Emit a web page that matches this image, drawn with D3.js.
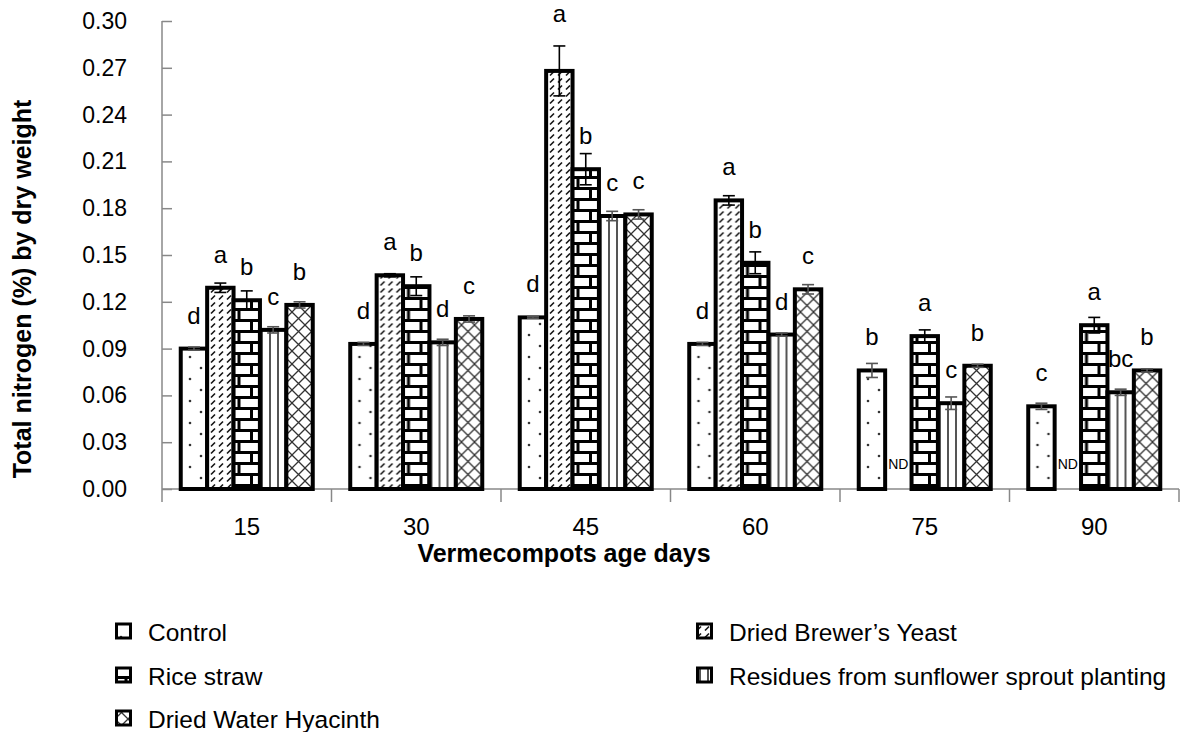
<!DOCTYPE html>
<html>
<head>
<meta charset="utf-8">
<script src="https://cdn.jsdelivr.net/npm/d3@7"></script>
<style>
  body { margin: 0; background: #fff; }
  svg text { font-family: "Liberation Sans", Arial, sans-serif; fill: #000; }
</style>
</head>
<body>
<div id="chart"></div>
<script>
// data
var days = ["15", "30", "45", "60", "75", "90"];
var series = ["Control", "Dried Brewer\u2019s Yeast", "Rice straw",
              "Residues from sunflower sprout planting", "Dried Water Hyacinth"];

var control   = [0.090, 0.093, 0.110, 0.093, 0.076, 0.053];
var yeast     = [0.129, 0.137, 0.268, 0.185, 0, 0];
var riceStraw = [0.121, 0.130, 0.205, 0.145, 0.098, 0.105];
var sunflower = [0.102, 0.094, 0.175, 0.099, 0.055, 0.062];
var hyacinth  = [0.118, 0.109, 0.176, 0.128, 0.079, 0.076];

var controlErr   = [0.001, 0.001, 0.0005, 0.001, 0.0045, 0.002];
var yeastErr     = [0.003, 0.001, 0.016, 0.003, 0, 0];
var riceErr      = [0.006, 0.006, 0.010, 0.007, 0.004, 0.005];
var sunflowerErr = [0.002, 0.002, 0.003, 0.001, 0.004, 0.002];
var hyacinthErr  = [0.002, 0.002, 0.003, 0.003, 0.001, 0.001];

// significance letters, "ND" = not detected
var controlLbl   = ["d", "d", "d", "d", "b", "c"];
var yeastLbl     = ["a", "a", "a", "a", "ND", "ND"];
var riceLbl      = ["b", "b", "b", "b", "a", "a"];
var sunflowerLbl = ["c", "d", "c", "d", "c", "bc"];
var hyacinthLbl  = ["b", "c", "c", "c", "b", "b"];

var yTicks = [0, 0.03, 0.06, 0.09, 0.12, 0.15, 0.18, 0.21, 0.24, 0.27, 0.30];

(function() {

var values = [control, yeast, riceStraw, sunflower, hyacinth];
var errors = [controlErr, yeastErr, riceErr, sunflowerErr, hyacinthErr];
var labels = [controlLbl, yeastLbl, riceLbl, sunflowerLbl, hyacinthLbl];
var patternIds = ["pDots", "pDash", "pBrick", "pVert", "pCross"];
var errColor = ["#555", "#000", "#000", "#555", "#555"];

var width = 1181, height = 732;
var left = 162, right = 1179, plotTop = 21, bottom = 489;

var svg = d3.select("#chart").append("svg")
    .attr("width", width)
    .attr("height", height);

// fill patterns
var defs = svg.append("defs");

var pd = defs.append("pattern").attr("id", "pDots")
    .attr("patternUnits", "userSpaceOnUse").attr("width", 22).attr("height", 22);
pd.append("rect").attr("width", 22).attr("height", 22).attr("fill", "#fff");
pd.append("circle").attr("cx", 6).attr("cy", 5).attr("r", 1.3).attr("fill", "#333");
pd.append("circle").attr("cx", 17).attr("cy", 16).attr("r", 1.3).attr("fill", "#333");

var pa = defs.append("pattern").attr("id", "pDash")
    .attr("patternUnits", "userSpaceOnUse").attr("width", 8).attr("height", 7);
pa.append("rect").attr("width", 8).attr("height", 7).attr("fill", "#fff");
pa.append("line").attr("x1", 1).attr("y1", 5.5).attr("x2", 5).attr("y2", 1.5)
    .attr("stroke", "#111").attr("stroke-width", 1.6);

var pb = defs.append("pattern").attr("id", "pBrick")
    .attr("patternUnits", "userSpaceOnUse").attr("width", 22).attr("height", 22);
pb.append("rect").attr("width", 22).attr("height", 22).attr("fill", "#fff");
pb.append("line").attr("x1", 0).attr("y1", 1.5).attr("x2", 22).attr("y2", 1.5)
    .attr("stroke", "#000").attr("stroke-width", 3);
pb.append("line").attr("x1", 0).attr("y1", 12.5).attr("x2", 22).attr("y2", 12.5)
    .attr("stroke", "#000").attr("stroke-width", 3);
pb.append("line").attr("x1", 11).attr("y1", 0).attr("x2", 11).attr("y2", 11)
    .attr("stroke", "#000").attr("stroke-width", 3);
pb.append("line").attr("x1", 1.5).attr("y1", 11).attr("x2", 1.5).attr("y2", 22)
    .attr("stroke", "#000").attr("stroke-width", 3);

var pv = defs.append("pattern").attr("id", "pVert")
    .attr("patternUnits", "userSpaceOnUse").attr("width", 8).attr("height", 8);
pv.append("rect").attr("width", 8).attr("height", 8).attr("fill", "#fff");
pv.append("line").attr("x1", 4).attr("y1", 0).attr("x2", 4).attr("y2", 8)
    .attr("stroke", "#555").attr("stroke-width", 2);

var pc = defs.append("pattern").attr("id", "pCross")
    .attr("patternUnits", "userSpaceOnUse").attr("width", 13).attr("height", 13);
pc.append("rect").attr("width", 13).attr("height", 13).attr("fill", "#fff");
pc.append("path").attr("d", "M0,0L13,13M13,0L0,13")
    .attr("stroke", "#333").attr("stroke-width", 1.3).attr("fill", "none");

// scales
var x0 = d3.scaleBand().domain(days).range([left, right]).padding(0);
var x1 = d3.scaleBand().domain(d3.range(series.length))
    .range([0, x0.bandwidth()]).paddingInner(0).paddingOuter(0.71);
var y = d3.scaleLinear().domain([0, 0.30]).range([bottom, plotTop]);

// y axis, ticks pointing into the plot
var yAxis = svg.append("g")
    .attr("transform", "translate(" + left + ",0)")
    .call(d3.axisRight(y).tickValues(yTicks).tickSize(10).tickFormat(""));
yAxis.select(".domain").attr("stroke", "#888").attr("stroke-width", 1.5)
    .attr("d", "M0," + plotTop + "V" + bottom);
yAxis.selectAll(".tick line").attr("stroke", "#888").attr("stroke-width", 1.5);

svg.append("g").selectAll("text")
    .data(yTicks)
    .enter().append("text")
    .attr("x", 127)
    .attr("y", function(d) { return y(d) + 8; })
    .attr("text-anchor", "end")
    .style("font-size", "23px")
    .text(function(d) { return d3.format(".2f")(d); });

// x axis
var bounds = days.map(function(d) { return x0(d); }).concat([right]);
svg.append("line")
    .attr("x1", left).attr("x2", right).attr("y1", bottom).attr("y2", bottom)
    .attr("stroke", "#888").attr("stroke-width", 1.5);
svg.append("g").selectAll("line")
    .data(bounds)
    .enter().append("line")
    .attr("x1", function(d) { return d; })
    .attr("x2", function(d) { return d; })
    .attr("y1", bottom).attr("y2", bottom + 13)
    .attr("stroke", "#888").attr("stroke-width", 1.5);

svg.append("g").selectAll("text")
    .data(days)
    .enter().append("text")
    .attr("x", function(d) { return x0(d) + x0.bandwidth() / 2; })
    .attr("y", 535)
    .attr("text-anchor", "middle")
    .style("font-size", "24px")
    .text(function(d) { return d; });

// bars
var groups = svg.append("g").selectAll("g")
    .data(days)
    .enter().append("g")
    .attr("transform", function(d) { return "translate(" + x0(d) + ",0)"; });

series.forEach(function(s, si) {
    groups.append("rect")
        .attr("x", x1(si))
        .attr("width", x1.bandwidth())
        .attr("y", function(d, i) { return y(values[si][i]); })
        .attr("height", function(d, i) { return bottom - y(values[si][i]); })
        .attr("fill", "url(#" + patternIds[si] + ")")
        .attr("stroke", "#000")
        .attr("stroke-width", 4);
});

// error bars
series.forEach(function(s, si) {
    var cx = x1(si) + x1.bandwidth() / 2;
    groups.each(function(d, i) {
        var v = values[si][i], e = errors[si][i];
        if (v === 0) return;
        var g = d3.select(this);
        var col = errColor[si];
        g.append("line")
            .attr("x1", cx).attr("x2", cx)
            .attr("y1", y(v - e)).attr("y2", y(v + e))
            .attr("stroke", col).attr("stroke-width", 1.6);
        [v - e, v + e].forEach(function(t) {
            g.append("line")
                .attr("x1", cx - 6).attr("x2", cx + 6)
                .attr("y1", y(t)).attr("y2", y(t))
                .attr("stroke", col).attr("stroke-width", 1.6);
        });
    });
});

// letters: above the bar, or above a long error bar
series.forEach(function(s, si) {
    groups.append("text")
        .attr("x", x1(si) + x1.bandwidth() / 2)
        .attr("y", function(d, i) {
            var v = values[si][i], e = errors[si][i];
            if (labels[si][i] === "ND") return bottom - 20;
            var barTop = y(v), errTop = y(v + e);
            return barTop - errTop > 20 ? errTop - 24 : barTop - 25;
        })
        .attr("text-anchor", "middle")
        .style("font-size", function(d, i) {
            return labels[si][i] === "ND" ? "14px" : "24px";
        })
        .text(function(d, i) { return labels[si][i]; });
});

// axis titles
svg.append("text")
    .attr("x", 564)
    .attr("y", 562)
    .attr("text-anchor", "middle")
    .style("font-size", "25px")
    .style("font-weight", "bold")
    .text("Vermecompots age days");

svg.append("text")
    .attr("transform", "translate(31,289) rotate(-90)")
    .attr("text-anchor", "middle")
    .style("font-size", "25px")
    .style("font-weight", "bold")
    .text("Total nitrogen (%) by dry weight");

// legend
var legendPos = [[115, 632], [696, 632], [115, 676], [696, 676], [115, 719]];
var legend = svg.append("g").selectAll("g")
    .data(series)
    .enter().append("g")
    .attr("transform", function(d, i) {
        return "translate(" + legendPos[i][0] + "," + legendPos[i][1] + ")";
    });
legend.append("rect")
    .attr("x", 1.5).attr("y", -8)
    .attr("width", 14).attr("height", 14)
    .attr("fill", function(d, i) { return "url(#" + patternIds[i] + ")"; })
    .attr("stroke", "#000").attr("stroke-width", 3);
legend.append("text")
    .attr("x", 33)
    .attr("y", 9)
    .style("font-size", "24.5px")
    .text(function(d) { return d; });

})();
</script>
</body>
</html>
